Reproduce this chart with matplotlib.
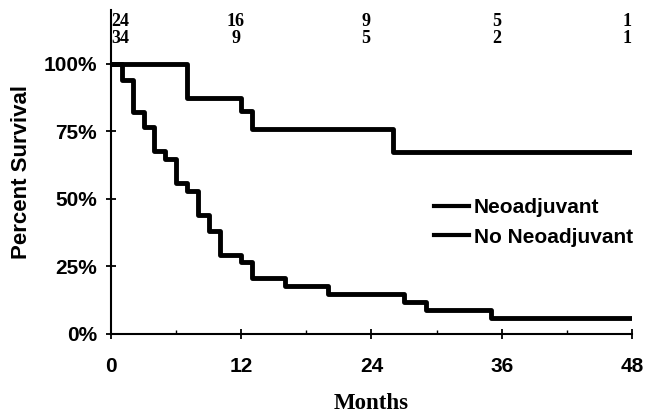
import numpy as np
import matplotlib
matplotlib.use("Agg")
import matplotlib.pyplot as plt
from matplotlib.ticker import FixedLocator, FuncFormatter

# survival curves (months, percent surviving)
neo_t = [0, 7, 12, 13, 26, 48]
neo_s = [100, 87.5, 82.5, 76, 67.5, 67.5]

noneo_t = [0, 1, 2, 3, 4, 5, 6, 7, 8, 9, 10, 12, 13, 16, 20, 27, 29, 35, 48]
noneo_s = [100, 94.1, 82.4, 76.5, 67.6, 64.7, 55.9, 52.9, 44.1, 38.2, 29.4,
           26.5, 20.6, 17.6, 14.7, 11.8, 8.8, 5.9, 5.9]

# numbers at risk
risk_months = [0, 12, 24, 36, 48]
risk_neo = [24, 16, 9, 5, 1]
risk_noneo = [34, 9, 5, 2, 1]

x_ticks = [0, 12, 24, 36, 48]
y_ticks = [0, 25, 50, 75, 100]

sans = "Liberation Sans"
serif = "Liberation Serif"

fig = plt.figure(figsize=(6.56, 4.13), dpi=100)
ax = fig.add_axes([0.1692, 0.1913, 0.7942, 0.7845])

ax.step(neo_t, neo_s, where="post", color="black", lw=3.5, label="Neoadjuvant")
ax.step(noneo_t, noneo_s, where="post", color="black", lw=3.5, label="No Neoadjuvant")

ax.set_xlim(0, 48)
ax.set_ylim(0, 120)
ax.spines["top"].set_visible(False)
ax.spines["right"].set_visible(False)
for s in ["left", "bottom"]:
    ax.spines[s].set_linewidth(1.5)

ax.xaxis.set_major_locator(FixedLocator(x_ticks))
ax.xaxis.set_minor_locator(FixedLocator([6, 18, 30, 42]))
ax.yaxis.set_major_locator(FixedLocator(y_ticks))
ax.yaxis.set_major_formatter(FuncFormatter(lambda v, p: "%d%%" % v))
ax.tick_params(axis="both", which="major", direction="inout", length=7, width=1.3)
ax.tick_params(axis="x", which="minor", direction="in", length=3, width=1.0)
ax.tick_params(axis="x", pad=13)
ax.tick_params(axis="y", pad=6.5)
for lab in ax.get_xticklabels() + ax.get_yticklabels():
    lab.set_fontfamily(sans)
    lab.set_fontweight("bold")
    lab.set_fontsize(15)

ax.set_xlabel("Months", fontfamily=serif, fontweight="bold", fontsize=16.5, labelpad=12)
ax.set_ylabel("Percent Survival", fontfamily=sans, fontweight="bold", fontsize=16, labelpad=8)

# numbers at risk along the top
for i, m in enumerate(risk_months):
    if m == 0:
        xx, ha = m + 0.05, "left"
    else:
        xx, ha = m - 0.5, "center"
    ax.text(xx, 115.6, str(risk_neo[i]), ha=ha, va="center", fontfamily=serif,
            fontweight="bold", fontsize=13)
    ax.text(xx, 109.5, str(risk_noneo[i]), ha=ha, va="center", fontfamily=serif,
            fontweight="bold", fontsize=13)

leg = ax.legend(loc="center left", bbox_to_anchor=(0.584, 0.344), frameon=False,
                handlelength=1.68, handletextpad=0.24, labelspacing=0.5,
                prop={"family": sans, "weight": "bold", "size": 15})
for h in leg.get_lines():
    h.set_linewidth(3.0)

fig.savefig("out.png", dpi=100)
